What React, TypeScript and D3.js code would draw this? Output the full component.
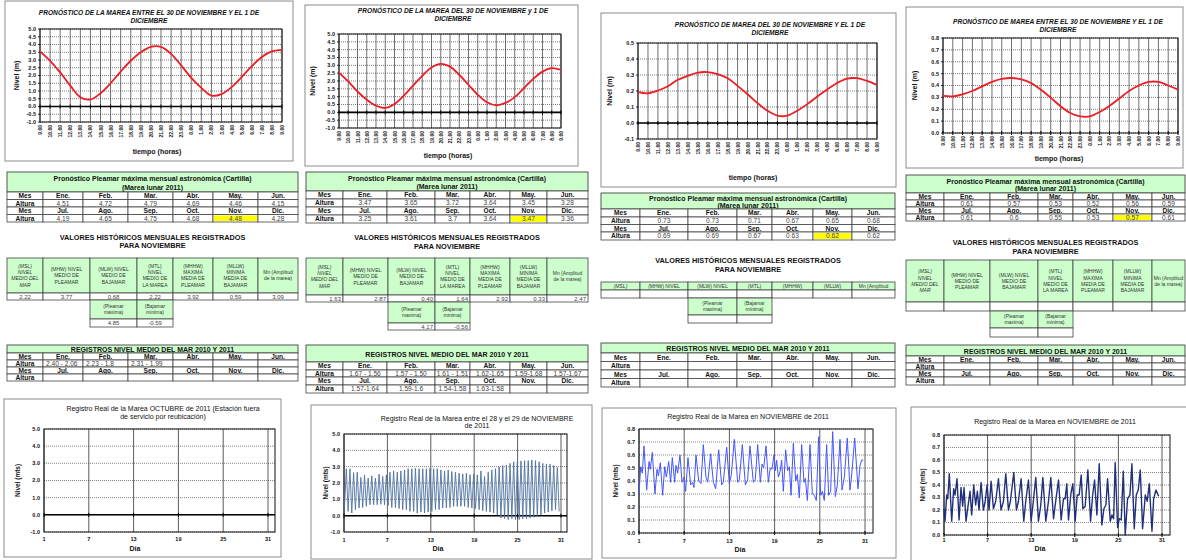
import React from "react";
import * as d3 from "d3";

const FONT = "'Liberation Sans', Arial, Helvetica, sans-serif";
const GREEN = "#ccffcc";

// ---------- DATA ----------
const hourLabels = ["9.00","10.00","11.00","12.00","13.00","14.00","15.00","16.00","17.00","18.00","19.00","20.00","21.00","22.00","23.00","0.00","1.00","2.00","3.00","4.00","5.00","6.00","7.00","8.00","9.00"];

const forecast1 = [3.56,2.95,2.2,1.35,0.6,0.45,0.85,1.5,2.25,2.95,3.5,3.85,3.85,3.4,2.65,1.85,1.2,0.7,0.8,1.25,1.9,2.6,3.2,3.55,3.65];
const forecast2 = [2.54,1.97,1.33,0.8,0.42,0.28,0.53,1.06,1.7,2.33,2.86,3.09,2.92,2.4,1.76,1.12,0.64,0.45,0.6,0.97,1.55,2.14,2.6,2.82,2.71];
const forecast3 = [0.193,0.186,0.203,0.23,0.27,0.295,0.315,0.318,0.306,0.28,0.232,0.18,0.124,0.077,0.046,0.046,0.077,0.118,0.166,0.21,0.25,0.277,0.28,0.263,0.238];
const forecast4 = [0.312,0.309,0.326,0.354,0.393,0.43,0.455,0.463,0.452,0.42,0.365,0.298,0.225,0.169,0.14,0.14,0.177,0.228,0.29,0.354,0.40,0.43,0.43,0.40,0.365];

const monthsFirst = ["Ene.","Feb.","Mar.","Abr.","May.","Jun."];
const monthsSecond = ["Jul.","Ago.","Sep.","Oct.","Nov.","Dic."];

const pleamar1a = ["4.51","4.72","4.79","4.69","4.46","4.15"];
const pleamar1b = ["4.19","4.65","4.75","4.68","4.48","4.28"];
const pleamar2a = ["3.47","3.65","3.72","3.64","3.45","3.28"];
const pleamar2b = ["3.25","3.61","3.7","3.64","3.47","3.36"];
const pleamar3a = ["0.73","0.73","0.71","0.67","0.65","0.68"];
const pleamar3b = ["0.69","0.69","0.67","0.63","0.62","0.62"];
const pleamar4a = ["0.61","0.57","0.53","0.52","0.56","0.59"];
const pleamar4b = ["0.61","0.6","0.55","0.53","0.57","0.61"];

const valoresHeadersFull = [
  ["(MSL)","NIVEL","MEDIO DEL","MAR"],
  ["(MHW) NIVEL","MEDIO DE","PLEAMAR"],
  ["(MLW) NIVEL","MEDIO DE","BAJAMAR"],
  ["(MTL)","NIVEL","MEDIO DE","LA MAREA"],
  ["(MHHW)","MAXIMA","MEDIA DE","PLEAMAR"],
  ["(MLLW)","MINIMA","MEDIA DE","BAJAMAR"],
  ["Mn (Amplitud","de la marea)"],
];
const valoresHeadersShort = [["(MSL)"],["(MHW) NIVEL"],["(MLW) NIVEL"],["(MTL)"],["(MHHW)"],["(MLLW)"],["Mn (Amplitud"]];
const subHeaders = [["(Pleamar","maxima)"],["(Bajamar","minima)"]];

const valores1 = ["2.22","3.77","0.68","2.22","3.92","0.59","3.09"];
const extremos1 = ["4.85","-0.59"];
const valores2 = ["1.63","2.87","0.40","1.64","2.92","0.33","2.47"];
const extremos2 = ["4.17","-0.56"];
const valoresEmpty = ["","","","","","",""];
const extremosEmpty = ["",""];

const registros1a = ["2.40 - 2.06","2.23 - 1.8","2.31 - 1.99","","",""];
const registros1b = ["","","","","",""];
const registros2a = ["1.67 - 1.56","1.57 - 1.50","1.61 - 1.51","1.62-1.65","1.59-1.68","1.57-1.67"];
const registros2b = ["1.57-1.64","1.59-1.6","1.54-1.58","1.63-1.58","",""];
const registrosEmpty = ["","","","","",""];

const dayTicks = [1, 7, 13, 19, 25, 31];

// Real record, 28-29 Nov chart: successive high / low waters (m)
const rec2FirstHighDay = 1.32;
const rec2Cycle = 0.503;
const rec2Highs = [2.87,2.87,2.64,2.66,2.34,2.5,2.3,2.44,2.3,2.54,2.4,2.5,2.66,2.74,2.66,2.74,2.8,2.87,2.87,2.9,2.87,2.87,2.87,2.9,2.87,2.87,2.8,2.74,2.8,2.7,2.66,2.6,2.56,2.6,2.5,2.54,2.5,2.74,2.4,2.66,2.8,2.87,3.0,3.07,3.1,3.2,3.3,3.3,3.35,3.37,3.37,3.4,3.37,3.3,3.2,3.17,3.15,3.07,2.95];
const rec2Lows = [0.5,0.26,0.16,0.37,0.47,0.5,0.57,0.67,0.67,0.67,0.7,0.67,0.63,0.5,0.5,0.43,0.37,0.37,0.26,0.26,0.16,0.22,0.16,0.22,0.26,0.37,0.37,0.47,0.47,0.5,0.57,0.57,0.57,0.57,0.5,0.47,0.43,0.37,0.3,0.26,0.22,0.16,0.02,-0.14,-0.18,-0.24,-0.18,-0.24,-0.24,-0.18,-0.18,-0.14,-0.1,-0.04,0.06,0.16,0.22,0.3,0.37,0.26];

// Real record November (third station): [day, level]
const rec3 = [[1.00,0.30],[1.22,0.51],[1.44,0.46],[1.66,0.67],[2.02,0.33],[2.33,0.55],[2.50,0.49],[2.77,0.62],[3.12,0.30],[3.39,0.49],[3.57,0.44],[3.83,0.54],[4.14,0.29],[4.41,0.51],[4.63,0.43],[4.94,0.55],[5.20,0.39],[5.42,0.58],[5.73,0.39],[5.91,0.52],[6.13,0.46],[6.44,0.60],[6.71,0.39],[6.97,0.43],[7.19,0.32],[7.50,0.58],[7.86,0.37],[8.12,0.39],[8.30,0.35],[8.57,0.60],[8.92,0.40],[9.23,0.38],[9.54,0.68],[9.89,0.43],[10.12,0.39],[10.51,0.61],[10.87,0.39],[11.18,0.34],[11.58,0.64],[11.97,0.37],[12.19,0.39],[12.64,0.66],[12.99,0.38],[13.26,0.45],[13.65,0.72],[14.10,0.39],[14.32,0.41],[14.72,0.68],[15.12,0.37],[15.42,0.41],[15.73,0.67],[16.18,0.39],[16.44,0.41],[16.75,0.68],[17.11,0.39],[17.33,0.53],[17.55,0.50],[17.86,0.67],[18.17,0.39],[18.43,0.50],[18.65,0.49],[18.92,0.60],[19.10,0.48],[19.27,0.56],[19.50,0.43],[19.72,0.47],[19.94,0.56],[20.16,0.32],[20.47,0.64],[20.73,0.48],[20.96,0.51],[21.18,0.29],[21.49,0.69],[21.80,0.40],[22.02,0.45],[22.28,0.27],[22.59,0.68],[22.90,0.39],[23.08,0.42],[23.35,0.25],[23.70,0.68],[24.01,0.30],[24.27,0.29],[24.54,0.25],[24.85,0.74],[25.12,0.29],[25.34,0.32],[25.60,0.25],[25.91,0.68],[26.18,0.29],[26.44,0.32],[26.71,0.78],[27.06,0.28],[27.33,0.37],[27.68,0.72],[27.95,0.33],[28.26,0.43],[28.65,0.73],[29.01,0.33],[29.27,0.47],[29.63,0.73],[30.07,0.34],[30.34,0.52],[30.56,0.56],[30.78,0.56]];

// Real record November (fourth station): [day, level]
const rec4 = [[1.00,0.21],[1.14,0.11],[1.37,0.32],[1.51,0.29],[1.73,0.49],[2.06,0.11],[2.33,0.37],[2.52,0.32],[2.79,0.45],[3.07,0.12],[3.34,0.38],[3.57,0.23],[3.76,0.38],[4.03,0.11],[4.26,0.21],[4.58,0.35],[4.81,0.16],[5.09,0.40],[5.36,0.24],[5.59,0.35],[5.82,0.20],[6.10,0.42],[6.42,0.20],[6.65,0.26],[6.93,0.40],[7.20,0.20],[7.48,0.43],[7.80,0.21],[8.12,0.27],[8.49,0.45],[8.85,0.20],[9.18,0.27],[9.50,0.49],[9.87,0.20],[10.14,0.27],[10.60,0.50],[10.97,0.20],[11.24,0.27],[11.61,0.45],[11.98,0.11],[12.25,0.27],[12.62,0.44],[12.99,0.11],[13.31,0.28],[13.63,0.46],[14.00,0.11],[14.32,0.24],[14.60,0.46],[15.01,0.11],[15.38,0.27],[15.70,0.46],[16.07,0.13],[16.39,0.28],[16.76,0.44],[17.12,0.12],[17.44,0.29],[17.67,0.29],[17.90,0.41],[18.13,0.12],[18.46,0.33],[18.73,0.41],[19.05,0.11],[19.33,0.32],[19.60,0.32],[19.88,0.48],[20.11,0.21],[20.43,0.23],[20.80,0.52],[21.17,0.11],[21.44,0.31],[21.72,0.44],[22.04,0.16],[22.36,0.57],[22.73,0.08],[23.00,0.21],[23.28,0.24],[23.51,0.45],[23.88,0.11],[24.11,0.16],[24.34,0.13],[24.56,0.58],[24.89,0.06],[25.12,0.13],[25.39,0.12],[25.67,0.51],[25.94,0.00],[26.26,0.29],[26.59,0.32],[26.86,0.57],[27.18,0.05],[27.46,0.32],[27.73,0.36],[28.01,0.52],[28.33,0.05],[28.70,0.32],[28.97,0.27],[29.25,0.41],[29.62,0.03],[29.85,0.29],[30.17,0.36],[30.54,0.31]];

// ---------- LAYOUT ----------
const columns = [
  {
    top: { box: { x: 5, y: 1, w: 288, h: 160 }, plot: { x0: 40, x1: 282, y0: 29, y1: 122 }, titleX: 149, titleY: [15, 23], yTitleX: 19, xTitleX: 157, xTitleY: 154,
      title: ["PRONÓSTICO DE LA MAREA ENTRE EL 30 DE NOVIEMBRE  Y EL 1 DE", "DICIEMBRE"], data: forecast1, yDomain: [-1, 5], yStep: 0.5 },
    pleamar: { cols: [7, 43, 83, 128, 173, 213, 258, 298], top: 172, titleBot: 192, rows: [192, 199.5, 207, 214.5, 222], a: pleamar1a, b: pleamar1b },
    valores: { titleY: [240, 248], cols: [7, 43, 90, 137, 173, 213, 258, 298], hTop: 258, hBot: 293, vBot: 300, sBot: 319, svBot: 327, align: "middle", headers: valoresHeadersFull, vals: valores1, ext: extremos1 },
    registros: { cols: [7, 43, 83, 128, 173, 213, 258, 298], top: 345, titleBot: 353, rows: [353, 360, 367, 374, 381], a: registros1a, b: registros1b, align: "start" },
    bottom: { box: { x: 4, y: 399, w: 277, h: 158 }, d1: 44, d31: 268, right: 275, y0: 429, y1: 532, yDomain: [-1, 5], yStep: 1, titleX: 163, titleY: [411, 419],
      title: ["Registro  Real de la Marea OCTUBRE  de 2011 (Estación fuera", "de servicio por reubicación)"], yTitleX: 20, xLabelY: 541, xTitleX: 135, xTitleY: 551, series: [] as number[][], color: "#3d5f8f", sw: 1 },
  },
  {
    top: { box: { x: 305, y: 5, w: 273, h: 161 }, plot: { x0: 339, x1: 561, y0: 34, y1: 128 }, titleX: 453, titleY: [13, 21], yTitleX: 315, xTitleX: 448, xTitleY: 158,
      title: ["PRONÓSTICO DE LA MAREA DEL 30 DE NOVIEMBRE y 1  DE", "DICIEMBRE"], data: forecast2, yDomain: [-1, 5], yStep: 0.5 },
    pleamar: { cols: [306, 343, 387, 435, 470, 510, 547, 588], top: 172, titleBot: 191, rows: [191, 199, 207, 215, 223], a: pleamar2a, b: pleamar2b },
    valores: { titleY: [240, 249], cols: [306, 343, 388, 435, 470, 510, 547, 588], hTop: 258, hBot: 295, vBot: 302, sBot: 323, svBot: 330, align: "end", headers: valoresHeadersFull, vals: valores2, ext: extremos2 },
    registros: { cols: [306, 343, 387, 435, 470, 510, 547, 588], top: 345, titleBot: 362, rows: [362, 370, 377, 385, 393], a: registros2a, b: registros2b, align: "middle" },
    bottom: { box: { x: 311, y: 405, w: 281, h: 154 }, d1: 344, d31: 561, right: 567, y0: 434, y1: 532, yDomain: [-1, 5], yStep: 1, titleX: 477, titleY: [421, 428],
      title: ["Registro  Real de la Marea entre el 28 y el 29 de  NOVIEMBRE", "de 2011"], yTitleX: 328, xLabelY: 542, xTitleX: 438, xTitleY: 551, series: null as any, color: "#4f72a0", sw: 0.9 },
  },
  {
    top: { box: { x: 601, y: 13, w: 295, h: 174 }, plot: { x0: 638, x1: 877, y0: 43, y1: 139 }, titleX: 770, titleY: [27, 35], yTitleX: 612, xTitleX: 753, xTitleY: 180,
      title: ["PRONÓSTICO DE  MAREA DEL 30 DE  NOVIEMBRE Y EL 1 DE", "DICIEMBRE"], data: forecast3, yDomain: [-0.1, 0.5], yStep: 0.1 },
    pleamar: { cols: [601, 640, 688, 737, 772, 813, 852, 895], top: 193, titleBot: 209, rows: [209, 217, 224.5, 232, 240], a: pleamar3a, b: pleamar3b },
    valores: { titleY: [263, 272], cols: [601, 640, 688, 737, 772, 813, 852, 895], hTop: 282, hBot: 290, vBot: 298, sBot: 315, svBot: 323, align: "middle", headers: valoresHeadersShort, vals: valoresEmpty, ext: extremosEmpty },
    registros: { cols: [601, 640, 688, 737, 772, 813, 852, 895], top: 343, titleBot: 353, rows: [353, 361.5, 370, 378.5, 387], a: registrosEmpty, b: registrosEmpty, align: "middle" },
    bottom: { box: { x: 602, y: 408, w: 294, h: 150 }, d1: 639, d31: 865, right: 873, y0: 429, y1: 533, yDomain: [0, 0.8], yStep: 0.1, titleX: 748, titleY: [419],
      title: ["Registro  Real de la Marea en  NOVIEMBRE  de 2011"], yTitleX: 618, xLabelY: 543, xTitleX: 740, xTitleY: 552, series: rec3, color: "#4455ff", sw: 1 },
  },
  {
    top: { box: { x: 906, y: 7, w: 277, h: 161 }, plot: { x0: 943, x1: 1178, y0: 38, y1: 133 }, titleX: 1058, titleY: [24, 32], yTitleX: 917, xTitleX: 1059, xTitleY: 161,
      title: ["PRONÓSTICO DE MAREA ENTRE EL 30  DE NOVIEMBRE Y EL 1 DE", "DICIEMBRE"], data: forecast4, yDomain: [0, 0.8], yStep: 0.1 },
    pleamar: { cols: [906, 944, 990, 1038, 1073, 1113, 1152, 1185], top: 175, titleBot: 193, rows: [193, 200, 207, 214, 221], a: pleamar4a, b: pleamar4b },
    valores: { titleY: [245, 254], cols: [906, 944, 990, 1038, 1073, 1113, 1152, 1185], hTop: 260, hBot: 302, vBot: 311, sBot: 328, svBot: 337, align: "middle", headers: valoresHeadersFull, vals: valoresEmpty, ext: extremosEmpty },
    registros: { cols: [906, 944, 990, 1038, 1073, 1113, 1152, 1185], top: 345, titleBot: 356, rows: [356, 363, 370, 377, 385], a: registrosEmpty, b: registrosEmpty, align: "middle" },
    bottom: { box: { x: 911, y: 407, w: 290, h: 160 }, d1: 944, d31: 1162, right: 1170, y0: 435, y1: 535, yDomain: [0, 0.8], yStep: 0.1, titleX: 1055, titleY: [424],
      title: ["Registro  Real de la Marea en  NOVIEMBRE  de 2011"], yTitleX: 925, xLabelY: 542, xTitleX: 1040, xTitleY: 551, series: rec4, color: "#22307a", sw: 1.4 },
  },
];

function rec2Series(): number[][] {
  const pts: number[][] = [];
  rec2Lows.forEach((lo, i) => {
    pts.push([rec2FirstHighDay + (i - 0.5) * rec2Cycle, lo]);
    if (i < rec2Highs.length) pts.push([rec2FirstHighDay + i * rec2Cycle, rec2Highs[i]]);
  });
  return pts.map(([d, v]) => [Math.max(1, d), v]);
}
columns[1].bottom.series = rec2Series();

function tickValues(domain: number[], step: number) {
  const n = Math.round((domain[1] - domain[0]) / step);
  return d3.range(n + 1).map((i) => +(domain[0] + i * step).toFixed(3));
}

// ---------- COMPONENTS ----------
function ForecastChart({ c }: any) {
  const { box, plot } = c;
  const x = d3.scalePoint<number>().domain(d3.range(hourLabels.length)).range([plot.x0, plot.x1]);
  const y = d3.scaleLinear().domain(c.yDomain).range([plot.y1, plot.y0]);
  const ticks = tickValues(c.yDomain, c.yStep);
  const line = d3.line<number>().x((_, i) => x(i) as number).y((d) => y(d)).curve(d3.curveCatmullRom.alpha(0.5));
  const hasZero = c.yDomain[0] < 0;
  return (
    <g fontFamily={FONT}>
      <rect x={box.x} y={box.y} width={box.w} height={box.h} fill="#fff" stroke="#8c8c8c" strokeWidth={1} />
      {c.title.map((t: string, i: number) => (
        <text key={i} x={c.titleX} y={c.titleY[i]} textAnchor="middle" fontSize={6.6} fontWeight="bold" fontStyle="italic" fill="#111">{t}</text>
      ))}
      {ticks.map((t) => (
        <line key={"h" + t} x1={plot.x0} x2={plot.x1} y1={y(t)} y2={y(t)} stroke="#222" strokeWidth={0.6} strokeDasharray="1,1" />
      ))}
      {hourLabels.map((_, i) => (
        <line key={"v" + i} x1={x(i)} x2={x(i)} y1={plot.y0} y2={plot.y1} stroke="#333" strokeWidth={0.7} />
      ))}
      <rect x={plot.x0} y={plot.y0} width={plot.x1 - plot.x0} height={plot.y1 - plot.y0} fill="none" stroke="#111" strokeWidth={1} />
      {hasZero && <line x1={plot.x0} x2={plot.x1} y1={y(0)} y2={y(0)} stroke="#000" strokeWidth={1.6} />}
      {hourLabels.map((_, i) => (
        <line key={"t" + i} x1={x(i)} x2={x(i)} y1={y(Math.max(0, c.yDomain[0])) - 2} y2={y(Math.max(0, c.yDomain[0])) + 2} stroke="#000" strokeWidth={1} />
      ))}
      {ticks.map((t) => (
        <line key={"yt" + t} x1={plot.x0 - 2} x2={plot.x0} y1={y(t)} y2={y(t)} stroke="#000" strokeWidth={0.8} />
      ))}
      <path d={line(c.data) || ""} fill="none" stroke="#ee1c25" strokeWidth={1.8} />
      {ticks.map((t) => (
        <text key={"yl" + t} x={plot.x0 - 4} y={y(t)} dy="0.35em" textAnchor="end" fontSize={5.5} fontWeight="bold" fill="#111">{t.toFixed(1)}</text>
      ))}
      {hourLabels.map((h, i) => (
        <text key={"xl" + i} transform={`translate(${(x(i) as number) + 2},${plot.y1 + 3}) rotate(-90)`} textAnchor="end" fontSize={5} fontWeight="bold" fill="#111">{h}</text>
      ))}
      <text transform={`translate(${c.yTitleX},${(plot.y0 + plot.y1) / 2}) rotate(-90)`} textAnchor="middle" fontSize={7} fontWeight="bold" fill="#111">Nivel (m)</text>
      <text x={c.xTitleX} y={c.xTitleY} textAnchor="middle" fontSize={7} fontWeight="bold" fill="#111">tiempo (horas)</text>
    </g>
  );
}

function Cell({ x0, x1, y0, y1, fill = "#fff", lines = [] as string[], bold = false, italic = false, fs = 7, align = "middle", color = "#222" }: any) {
  const lh = fs * 1.25;
  const cy = (y0 + y1) / 2 - ((lines.length - 1) * lh) / 2;
  const tx = align === "middle" ? (x0 + x1) / 2 : align === "end" ? x1 - 2 : x0 + 3;
  return (
    <g>
      <rect x={x0} y={y0} width={x1 - x0} height={y1 - y0} fill={fill} stroke="#444" strokeWidth={0.8} />
      {lines.map((l: string, i: number) => (
        <text key={i} x={tx} y={cy + i * lh} dy="0.35em" textAnchor={align} fontSize={fs} fontWeight={bold ? "bold" : "normal"} fontStyle={italic ? "italic" : "normal"} fill={color} fontFamily={FONT}>{l}</text>
      ))}
    </g>
  );
}

function MonthTable({ cols, rows, a, b, align = "middle", highlight = false }: any) {
  const out: any[] = [];
  for (let r = 0; r < 4; r++) {
    for (let ci = 0; ci < 7; ci++) {
      const isLabel = ci === 0;
      const isMes = r % 2 === 0;
      let txt = "";
      if (isLabel) txt = isMes ? "Mes" : "Altura";
      else if (r === 0) txt = monthsFirst[ci - 1];
      else if (r === 1) txt = a[ci - 1];
      else if (r === 2) txt = monthsSecond[ci - 1];
      else txt = b[ci - 1];
      out.push(
        <Cell key={r + "-" + ci} x0={cols[ci]} x1={cols[ci + 1]} y0={rows[r]} y1={rows[r + 1]} lines={[txt]}
          bold={isLabel || isMes} fs={6.6} align={isLabel || isMes ? "middle" : align} color={isLabel || isMes ? "#111" : "#444"} />
      );
    }
  }
  if (highlight) {
    out.push(
      <g key="hl">
        <rect x={cols[5] + 1} y={rows[3] + 1} width={cols[6] - cols[5] - 2} height={rows[4] - rows[3] - 2} fill="#ffff00" />
        <text x={(cols[5] + cols[6]) / 2} y={(rows[3] + rows[4]) / 2} dy="0.35em" textAnchor="middle" fontSize={6.6} fill="#444" fontFamily={FONT}>{b[4]}</text>
      </g>
    );
  }
  return <g>{out}</g>;
}

function PleamarTable({ t }: any) {
  const { cols, top, titleBot } = t;
  const h = titleBot - top;
  return (
    <g fontFamily={FONT}>
      <rect x={cols[0]} y={top} width={cols[7] - cols[0]} height={h} fill={GREEN} stroke="#444" strokeWidth={0.9} />
      <text x={(cols[0] + cols[7]) / 2} y={top + h * 0.34} dy="0.35em" textAnchor="middle" fontSize={7} fontWeight="bold" fill="#111">Pronóstico Pleamar máxima mensual astronómica (Cartilla)</text>
      <text x={(cols[0] + cols[7]) / 2} y={top + h * 0.78} dy="0.35em" textAnchor="middle" fontSize={7} fontWeight="bold" fill="#111">(Marea lunar 2011)</text>
      <MonthTable cols={cols} rows={t.rows} a={t.a} b={t.b} highlight />
    </g>
  );
}

function ValoresTable({ t }: any) {
  const { cols } = t;
  const cx = (cols[0] + cols[7]) / 2;
  return (
    <g fontFamily={FONT}>
      <text x={cx} y={t.titleY[0]} textAnchor="middle" fontSize={7.3} fontWeight="bold" fill="#111">VALORES HISTÓRICOS MENSUALES REGISTRADOS</text>
      <text x={cx} y={t.titleY[1]} textAnchor="middle" fontSize={7.3} fontWeight="bold" fill="#111">PARA NOVIEMBRE</text>
      {t.headers.map((lines: string[], i: number) => (
        <Cell key={"h" + i} x0={cols[i]} x1={cols[i + 1]} y0={t.hTop} y1={t.hBot} fill={GREEN} lines={lines} fs={5} italic={i === 0} color="#333" />
      ))}
      {t.vals.map((v: string, i: number) => (
        <Cell key={"v" + i} x0={cols[i]} x1={cols[i + 1]} y0={t.hBot} y1={t.vBot} lines={[v]} fs={6} align={t.align} color="#444" />
      ))}
      {subHeaders.map((lines, i) => (
        <Cell key={"s" + i} x0={cols[2 + i]} x1={cols[3 + i]} y0={t.vBot} y1={t.sBot} fill={GREEN} lines={lines} fs={5} color="#333" />
      ))}
      {t.ext.map((v: string, i: number) => (
        <Cell key={"e" + i} x0={cols[2 + i]} x1={cols[3 + i]} y0={t.sBot} y1={t.svBot} lines={[v]} fs={6} align={t.align} color="#444" />
      ))}
    </g>
  );
}

function RegistrosTable({ t }: any) {
  const { cols, top, titleBot } = t;
  return (
    <g fontFamily={FONT}>
      <rect x={cols[0]} y={top} width={cols[7] - cols[0]} height={titleBot - top} fill={GREEN} stroke="#444" strokeWidth={0.9} />
      <text x={(cols[0] + cols[7]) / 2} y={(top + titleBot) / 2 + 1} dy="0.35em" textAnchor="middle" fontSize={7} fontWeight="bold" fill="#111">REGISTROS NIVEL MEDIO DEL MAR 2010 Y 2011</text>
      <MonthTable cols={cols} rows={t.rows} a={t.a} b={t.b} align={t.align} />
    </g>
  );
}

function RecordChart({ c }: any) {
  const { box } = c;
  const x = d3.scaleLinear().domain([1, 31]).range([c.d1, c.d31]);
  const y = d3.scaleLinear().domain(c.yDomain).range([c.y1, c.y0]);
  const ticks = tickValues(c.yDomain, c.yStep);
  const line = d3.line<number[]>().x((d) => x(d[0])).y((d) => y(d[1]));
  const hasZero = c.yDomain[0] < 0;
  return (
    <g fontFamily={FONT}>
      <rect x={box.x} y={box.y} width={box.w} height={box.h} fill="#fff" stroke="#8c8c8c" strokeWidth={1} />
      {c.title.map((t: string, i: number) => (
        <text key={i} x={c.titleX} y={c.titleY[i]} textAnchor="middle" fontSize={7} fill="#111">{t}</text>
      ))}
      {ticks.map((t) => (
        <line key={"h" + t} x1={c.d1} x2={c.right} y1={y(t)} y2={y(t)} stroke="#333" strokeWidth={0.6} strokeDasharray="1,1" />
      ))}
      {dayTicks.map((d) => (
        <line key={"v" + d} x1={x(d)} x2={x(d)} y1={c.y0} y2={c.y1} stroke="#333" strokeWidth={0.8} />
      ))}
      <rect x={c.d1} y={c.y0} width={c.right - c.d1} height={c.y1 - c.y0} fill="none" stroke="#111" strokeWidth={1} />
      {hasZero && <line x1={c.d1} x2={c.right} y1={y(0)} y2={y(0)} stroke="#000" strokeWidth={1.5} />}
      {dayTicks.map((d) => (
        <line key={"t" + d} x1={x(d)} x2={x(d)} y1={y(Math.max(0, c.yDomain[0])) - 2} y2={y(Math.max(0, c.yDomain[0])) + 2} stroke="#000" strokeWidth={1} />
      ))}
      {c.series && c.series.length > 0 && <path d={line(c.series) || ""} fill="none" stroke={c.color} strokeWidth={c.sw} strokeLinejoin="round" />}
      {ticks.map((t) => (
        <text key={"yl" + t} x={c.d1 - 4} y={y(t)} dy="0.35em" textAnchor="end" fontSize={5.5} fontWeight="bold" fill="#111">{t.toFixed(1)}</text>
      ))}
      {dayTicks.map((d) => (
        <text key={"xl" + d} x={x(d)} y={c.xLabelY} textAnchor="middle" fontSize={5.5} fontWeight="bold" fill="#111">{d}</text>
      ))}
      <text transform={`translate(${c.yTitleX},${(c.y0 + c.y1) / 2}) rotate(-90)`} textAnchor="middle" fontSize={6.5} fontWeight="bold" fill="#111">Nivel (mts)</text>
      <text x={c.xTitleX} y={c.xTitleY} textAnchor="middle" fontSize={7} fontWeight="bold" fill="#111">Día</text>
    </g>
  );
}

export default function App() {
  return (
    <svg width={1186} height={560} viewBox="0 0 1186 560" style={{ position: "absolute", left: 0, top: 0, background: "#fff" }}>
      <rect x={0} y={0} width={1186} height={560} fill="#fff" />
      {columns.map((col, i) => (
        <g key={i}>
          <ForecastChart c={col.top} />
          <PleamarTable t={col.pleamar} />
          <ValoresTable t={col.valores} />
          <RegistrosTable t={col.registros} />
          <RecordChart c={col.bottom} />
        </g>
      ))}
    </svg>
  );
}
